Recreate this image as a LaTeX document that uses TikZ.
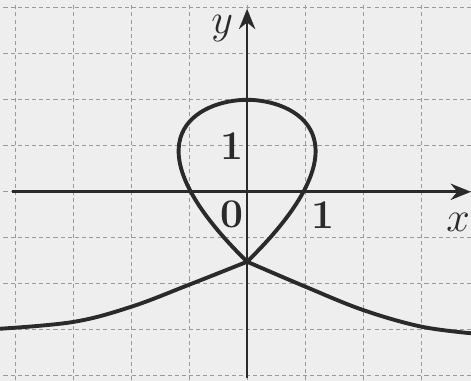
\documentclass[tikz,border=0pt]{standalone}
\usepackage{tikz}
\usetikzlibrary{arrows.meta}
\definecolor{PaperGray}{HTML}{EEEEEE}
\definecolor{GridGray}{HTML}{9A9A9A}
\definecolor{InkBlack}{HTML}{2A2A2A}

\tikzset{
  gridline/.style={GridGray,line width=0.5pt,dash pattern=on 2pt off 1.5pt},
  axisline/.style={InkBlack,line width=1.3pt,-{Stealth[length=10pt,width=8pt]}},
  curveline/.style={InkBlack,line width=1.9pt,line join=round},
  numlabel/.style={InkBlack,font=\fontsize{20}{24}\selectfont\bfseries,inner sep=0pt}
}

\begin{document}
\begin{tikzpicture}[x=1cm,y=0.793cm]
% background and bounding box
\fill[PaperGray] (-4.26,-4.11) rectangle (3.86,4.17);
\useasboundingbox (-4.26,-4.11) rectangle (3.86,4.17);

% grid
\foreach \gx in {-4,...,3}
  \draw[gridline] (\gx,-4.1) -- (\gx,4.1);
\foreach \gy in {-4,...,4}
  \draw[gridline] (-4.2,\gy) -- (3.86,\gy);

% axes
\coordinate (xstart) at (-4.05,0);
\coordinate (xend) at (3.86,0);
\coordinate (ystart) at (0,-4.05);
\coordinate (yend) at (0,3.98);
\draw[axisline] (xstart) -- (xend);
\draw[axisline] (ystart) -- (yend);

% curve: loop and two tails through the node
\coordinate (knot) at (0,-1.52);
\coordinate (looptop) at (0,2);
\draw[curveline] (knot) .. controls (2.2,1.2) and (0.8,2) .. (looptop)
  .. controls (-0.8,2) and (-2.2,1.2) .. (knot);
\draw[curveline] plot[smooth,tension=0.6] coordinates
  {(-4.3,-2.98) (-3,-2.83) (-2,-2.5) (-1,-2.02) (knot)};
\draw[curveline] plot[smooth,tension=0.6] coordinates
  {(knot) (1,-2.06) (2,-2.57) (3,-2.93) (3.9,-3.08)};

% labels
\node[numlabel] (ylabel) at (-0.43,3.54) {$y$};
\node[numlabel] (xlabel) at (3.64,-0.67) {$x$};
\node[numlabel] (yone) at (-0.26,1.0) {1};
\node[numlabel] (origin) at (-0.26,-0.5) {0};
\node[numlabel] (xone) at (1.31,-0.5) {1};
\end{tikzpicture}
\end{document}
